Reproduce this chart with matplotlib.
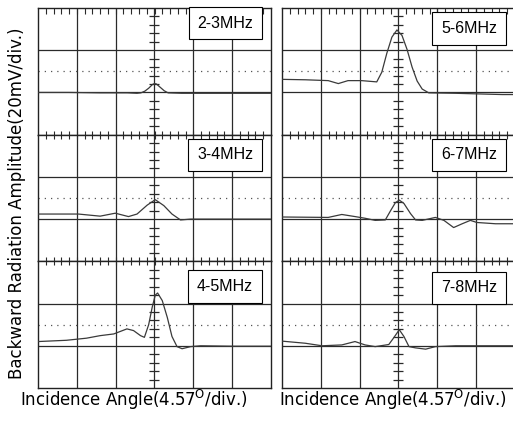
import numpy as np
import matplotlib.pyplot as plt

# Oscilloscope traces, x and y in divisions
# (x: 0..6 across the screen, y: 0..3, baseline on the grid line y = 1)
x_23 = [0, 0.8, 1.6, 2.3, 2.55, 2.65, 2.75, 2.85, 2.95, 3.0, 3.05, 3.15, 3.25, 3.35, 3.7, 4.5, 5.3, 6]
y_23 = [1.0, 1.0, 0.99, 0.99, 0.98, 0.99, 1.03, 1.1, 1.19, 1.21, 1.2, 1.12, 1.04, 0.99, 0.98, 0.98, 0.98, 0.98]

x_34 = [0, 1.04, 1.6, 1.99, 2.33, 2.55, 2.81, 3.02, 3.24, 3.45, 3.67, 3.93, 4.6, 5.3, 6]
y_34 = [1.12, 1.12, 1.07, 1.14, 1.06, 1.12, 1.33, 1.46, 1.32, 1.12, 0.98, 1.0, 1.0, 1.0, 1.0]

x_45 = [0, 0.73, 1.25, 1.6, 1.95, 2.12, 2.29, 2.46, 2.64, 2.74, 2.85, 2.94, 3.02, 3.08,
        3.2, 3.33, 3.45, 3.58, 3.71, 3.93, 4.19, 5.0, 6]
y_45 = [1.1, 1.13, 1.18, 1.24, 1.28, 1.34, 1.4, 1.36, 1.24, 1.2, 1.5, 1.91, 2.2, 2.25,
        2.07, 1.67, 1.22, 0.98, 0.93, 0.98, 1.0, 0.99, 0.99]

x_56 = [0, 0.6, 1.19, 1.45, 1.7, 2.05, 2.44, 2.57, 2.7, 2.83, 2.96, 3.09, 3.22, 3.35,
        3.48, 3.61, 3.78, 4.47, 5.67, 6]
y_56 = [1.31, 1.3, 1.28, 1.21, 1.28, 1.28, 1.25, 1.48, 1.93, 2.31, 2.48, 2.35, 2.02, 1.6,
        1.27, 1.08, 0.99, 0.98, 0.95, 0.95]

x_67 = [0, 1.19, 1.54, 1.88, 2.14, 2.4, 2.66, 2.79, 2.92, 3.02, 3.14, 3.31, 3.44, 3.61,
        3.95, 4.17, 4.42, 4.64, 4.85, 5.02, 5.5, 6]
y_67 = [1.05, 1.04, 1.11, 1.06, 1.02, 0.97, 0.98, 1.19, 1.39, 1.45, 1.37, 1.13, 0.98, 0.97,
        1.04, 0.97, 0.8, 0.89, 0.97, 0.92, 0.89, 0.89]

x_78 = [0, 0.6, 1.03, 1.54, 1.88, 2.14, 2.4, 2.75, 2.87, 3.02, 3.14, 3.27, 3.44, 3.7,
        3.95, 4.47, 6]
y_78 = [1.11, 1.06, 1.0, 1.02, 1.1, 1.02, 0.98, 1.03, 1.18, 1.38, 1.22, 0.98, 0.95, 0.92,
        0.98, 1.0, 1.0]

labels = ["2-3MHz", "3-4MHz", "4-5MHz", "5-6MHz", "6-7MHz", "7-8MHz"]
traces = [(x_23, y_23), (x_34, y_34), (x_45, y_45),
          (x_56, y_56), (x_67, y_67), (x_78, y_78)]

fig = plt.figure(figsize=(5.13, 4.21), dpi=100)

W, H = 513, 421
col_left = [38, 282]
col_w = 233
row_top = 8
row_h = 380 / 3
label_y = [0.88, 0.84, 0.80, 0.84, 0.84, 0.79]

grid_c = "#2a2a2a"
trace_c = "#3a3a3a"

for i, (label, (xs, ys)) in enumerate(zip(labels, traces)):
    col, row = divmod(i, 3)
    left = col_left[col] / W
    bottom = 1 - (row_top + (row + 1) * row_h) / H
    ax = fig.add_axes([left, bottom, col_w / W, row_h / H])
    ax.set_xlim(0, 6)
    ax.set_ylim(0, 3)

    # screen grid
    for gx in range(1, 6):
        ax.axvline(gx, color=grid_c, lw=0.9, zorder=1)
    for gy in (1, 2):
        ax.axhline(gy, color=grid_c, lw=0.9, zorder=1)
    ax.axhline(1.5, color="#555555", lw=0.9, ls=(0, (1, 4)), zorder=1)

    # centre axis with small division marks
    yt = [v for v in np.arange(0.2, 3.0, 0.2) if abs(v - round(v)) > 0.05]
    ax.plot([3] * len(yt), yt, ls="none", marker="_", ms=7, mew=0.9,
            color=grid_c, zorder=2)

    ax.plot(xs, ys, color=trace_c, lw=0.9, zorder=3)

    ax.text(0.923, label_y[i], label, transform=ax.transAxes,
            ha="right", va="center", fontsize=11.5, family="Liberation Sans",
            bbox=dict(boxstyle="square,pad=0.55", fc="white", ec="black", lw=0.8),
            zorder=4)

    ax.set_xticks([])
    ax.set_yticks([])
    ax.set_xticks(np.arange(0.2, 6.0, 0.2), minor=True)
    ax.tick_params(which="minor", bottom=False, top=True,
                   direction="in" if row == 0 else "inout",
                   length=4 if row == 0 else 6, width=0.8, color=grid_c)
    for sp in ax.spines.values():
        sp.set_linewidth(1.0)
        sp.set_color("#222222")

fig.text(17 / W, 1 - 203 / H, "Backward Radiation Amplitude(20mV/div.)",
         rotation=90, ha="center", va="center", fontsize=12, family="DejaVu Sans")
xlab = r"Incidence Angle(4.57$^{\mathrm{O}}$/div.)"
fig.text(134 / W, 1 - 400 / H, xlab, ha="center", va="center", fontsize=12)
fig.text(393 / W, 1 - 400 / H, xlab, ha="center", va="center", fontsize=12)

fig.savefig("out.png", dpi=100)
